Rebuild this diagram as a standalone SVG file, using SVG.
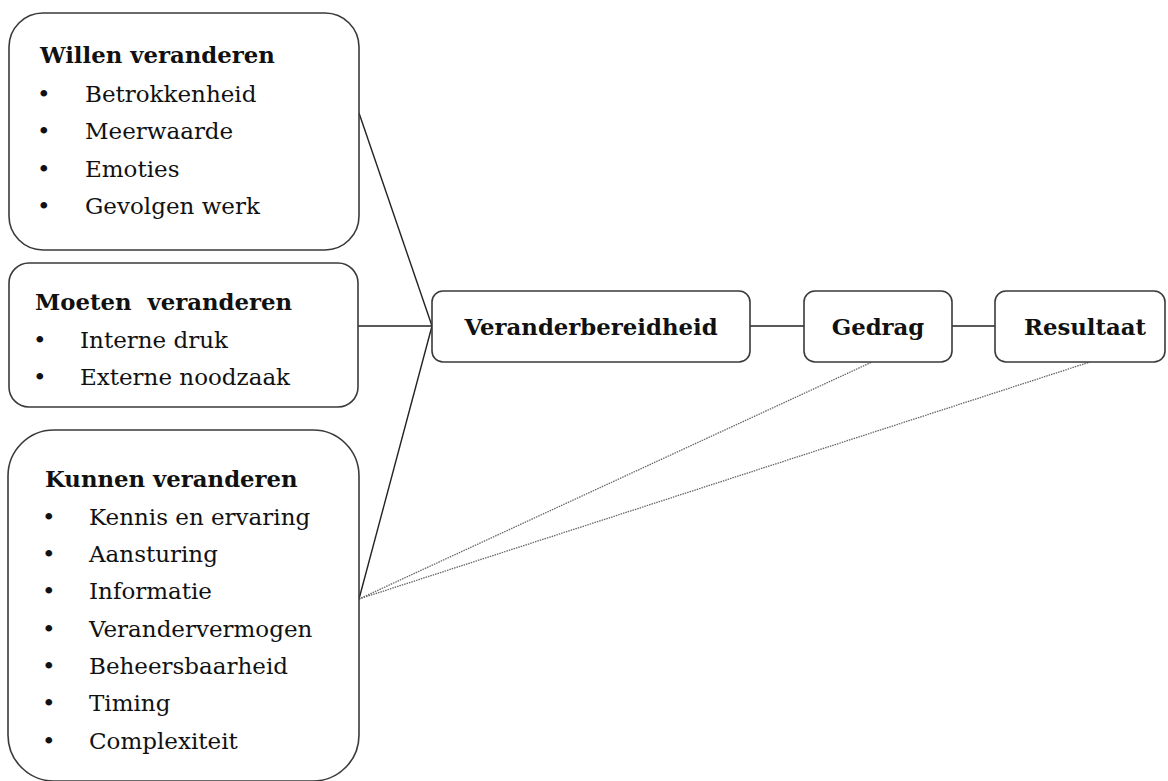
<svg xmlns="http://www.w3.org/2000/svg" width="1168" height="781" viewBox="0 0 1168 781">
<style>
.box{fill:#fff;stroke:#3a3a3a;stroke-width:1.6}
.t{font-family:"DejaVu Serif","Liberation Serif",serif;font-size:23px;fill:#111}
.b{font-weight:bold;font-size:22.8px}
.c{stroke:#222;stroke-width:1.4;fill:none}
.d{stroke:#666;stroke-width:1.3;stroke-dasharray:1.5 1;fill:none}
</style>
<rect width="1168" height="781" fill="#fff"/>
<g id="connectors">
<line class="c" x1="359" y1="113" x2="432" y2="326"/>
<line class="c" x1="358" y1="326" x2="432" y2="326"/>
<line class="c" x1="359" y1="599" x2="432" y2="326"/>
<line class="c" x1="750" y1="326" x2="804" y2="326"/>
<line class="c" x1="952" y1="326" x2="995" y2="326"/>
<line class="d" x1="359" y1="599" x2="872" y2="362"/>
<line class="d" x1="359" y1="599" x2="1090" y2="362"/>
</g>
<g id="willen">
<rect class="box" x="9" y="13" width="350" height="237" rx="34"/>
<text class="t b" x="40" y="63">Willen veranderen</text>
<text class="t" x="37" y="102">•</text><text class="t" x="85" y="102">Betrokkenheid</text>
<text class="t" x="37" y="139">•</text><text class="t" x="85" y="139">Meerwaarde</text>
<text class="t" x="37" y="177">•</text><text class="t" x="85" y="177">Emoties</text>
<text class="t" x="37" y="214">•</text><text class="t" x="85" y="214">Gevolgen werk</text>
</g>
<g id="moeten">
<rect class="box" x="9" y="263" width="349" height="144" rx="20"/>
<text class="t b" x="35" y="310" xml:space="preserve">Moeten  veranderen</text>
<text class="t" x="33" y="348">•</text><text class="t" x="80" y="348">Interne druk</text>
<text class="t" x="33" y="385">•</text><text class="t" x="80" y="385">Externe noodzaak</text>
</g>
<g id="kunnen">
<rect class="box" x="8" y="430" width="351" height="351" rx="46"/>
<text class="t b" x="45" y="487">Kunnen veranderen</text>
<text class="t" x="42" y="525">•</text><text class="t" x="89" y="525">Kennis en ervaring</text>
<text class="t" x="42" y="562">•</text><text class="t" x="89" y="562">Aansturing</text>
<text class="t" x="42" y="599">•</text><text class="t" x="89" y="599">Informatie</text>
<text class="t" x="42" y="637">•</text><text class="t" x="89" y="637">Verandervermogen</text>
<text class="t" x="42" y="674">•</text><text class="t" x="89" y="674">Beheersbaarheid</text>
<text class="t" x="42" y="711">•</text><text class="t" x="89" y="711">Timing</text>
<text class="t" x="42" y="749">•</text><text class="t" x="89" y="749">Complexiteit</text>
</g>
<g id="veranderbereidheid">
<rect class="box" x="432" y="291" width="318" height="71" rx="11"/>
<text class="t b" x="591" y="335" text-anchor="middle">Veranderbereidheid</text>
</g>
<g id="gedrag">
<rect class="box" x="804" y="291" width="148" height="71" rx="11"/>
<text class="t b" x="878" y="335" text-anchor="middle">Gedrag</text>
</g>
<g id="resultaat">
<rect class="box" x="995" y="291" width="170" height="71" rx="11"/>
<text class="t b" x="1085" y="335" text-anchor="middle">Resultaat</text>
</g>
</svg>
